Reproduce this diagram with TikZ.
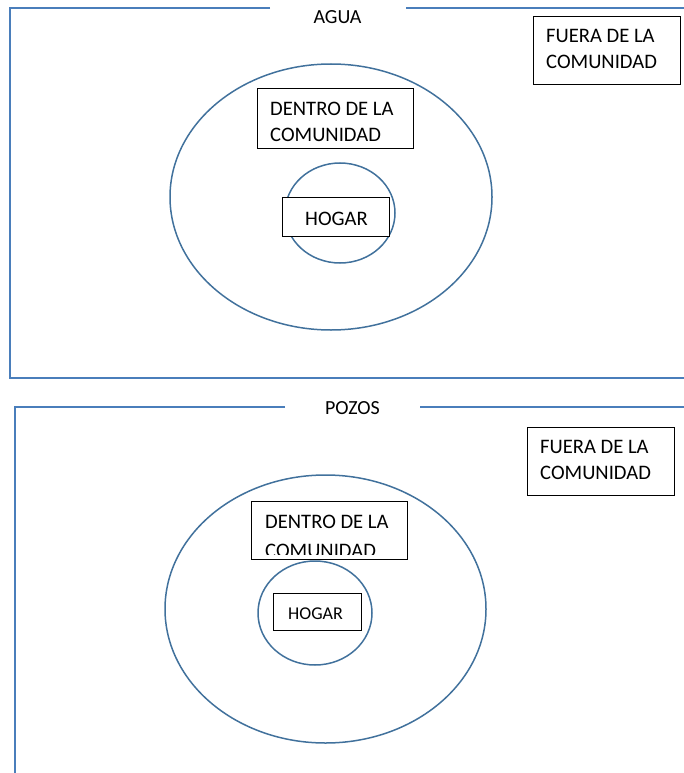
\documentclass[tikz,border=0pt]{standalone}
\usepackage{fontspec}
\setmainfont{Carlito}
\usetikzlibrary{shapes.geometric}
\definecolor{ellblue}{RGB}{65,113,156}
\definecolor{frameblue}{RGB}{74,126,187}
\tikzset{
  frame/.style={draw=frameblue, line width=2pt},
  ell/.style={draw=ellblue, line width=1.5pt, ellipse, inner sep=0pt},
  box/.style={draw=black, line width=1pt, rectangle, inner sep=0pt},
  lbl/.style={inner sep=0pt, font=\fontsize{20.6}{26}\selectfont, anchor=base west},
  ttl/.style={inner sep=0pt, font=\fontsize{20}{26}\selectfont, anchor=base},
}
\begin{document}
\begin{tikzpicture}[x=1pt,y=-1pt]
\useasboundingbox (0,0) rectangle (684,773);
% ---- top panel ----
\draw[frame] (270,8) -- (10,8) -- (10,378) -- (684,378);
\draw[frame] (406,8) -- (684,8);
\node[ttl] (agua) at (337.5,23.5) {AGUA};
\node[ell, minimum width=322, minimum height=266] (big1) at (331,197) {};
\node[ell, minimum width=110, minimum height=100] (small1) at (340,213) {};
\node[box, minimum width=147, minimum height=68] (fuera1) at (606.5,51) {};
\node[lbl] (fuera1a) at (546,43) {FUERA DE LA};
\node[lbl] (fuera1b) at (546,69) {COMUNIDAD};
\node[box, fill=white, minimum width=156, minimum height=59] (dentro1) at (335,118.5) {};
\node[lbl] (dentro1a) at (270,116) {DENTRO DE LA};
\node[lbl] (dentro1b) at (270,142) {COMUNIDAD};
\node[box, fill=white, minimum width=107, minimum height=39] (hogar1) at (335.5,216.5) {};
\node[lbl] (hogar1t) at (305,225) {HOGAR};
% ---- bottom panel ----
\draw[frame] (285,407) -- (15,407) -- (15,773);
\draw[frame] (420,407) -- (684,407);
\node[ttl] (pozos) at (352.5,414) {POZOS};
\node[ell, minimum width=321, minimum height=268] (big2) at (325.5,609) {};
\node[ell, minimum width=114, minimum height=104] (small2) at (315,613) {};
\node[box, minimum width=147, minimum height=68] (fuera2) at (600.5,461) {};
\node[lbl] (fuera2a) at (540,453) {FUERA DE LA};
\node[lbl] (fuera2b) at (540,479) {COMUNIDAD};
\node[box, fill=white, minimum width=156, minimum height=58] (dentro2) at (329,530) {};
\begin{scope}
  \clip (252,501) rectangle (406,554.5);
  \node[lbl] (dentro2a) at (265,528) {DENTRO DE LA};
  \node[lbl] (dentro2b) at (265,557) {COMUNIDAD};
\end{scope}
\node[box, fill=white, minimum width=88, minimum height=37] (hogar2) at (317,611.5) {};
\node[lbl, font=\fontsize{18}{22}\selectfont] (hogar2t) at (288,619) {HOGAR};
\end{tikzpicture}
\end{document}
